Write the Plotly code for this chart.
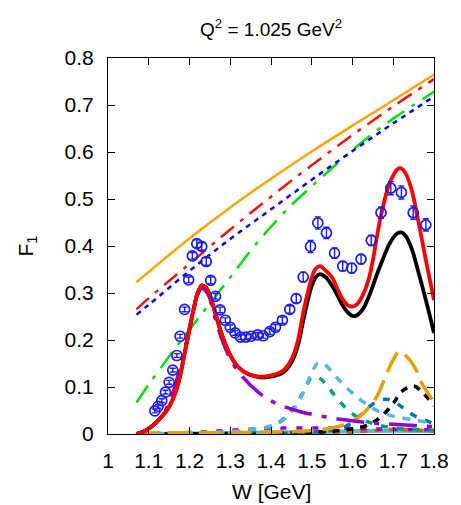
import plotly.graph_objects as go

# ---- measured structure function F1 at Q^2 = 1.025 GeV^2 ----
data_w = [1.115, 1.123, 1.132, 1.141, 1.150, 1.159, 1.169, 1.177, 1.188, 1.198,
          1.207, 1.218, 1.230, 1.241, 1.252, 1.264, 1.275, 1.288, 1.300, 1.312,
          1.325, 1.338, 1.351, 1.367, 1.381, 1.397, 1.411, 1.428, 1.446, 1.462,
          1.479, 1.497, 1.515, 1.536, 1.556, 1.576, 1.598, 1.621, 1.646, 1.670,
          1.694, 1.720, 1.749, 1.780]
data_f1 = [0.049, 0.059, 0.071, 0.089, 0.110, 0.136, 0.167, 0.208, 0.265, 0.328,
           0.379, 0.405, 0.399, 0.367, 0.327, 0.293, 0.264, 0.242, 0.227, 0.215,
           0.206, 0.206, 0.208, 0.211, 0.209, 0.218, 0.227, 0.242, 0.265, 0.288,
           0.334, 0.399, 0.449, 0.428, 0.385, 0.357, 0.353, 0.372, 0.412, 0.471,
           0.523, 0.514, 0.471, 0.445]
data_err = [0.004, 0.004, 0.004, 0.004, 0.004, 0.004, 0.004, 0.004, 0.005, 0.006,
            0.007, 0.008, 0.008, 0.008, 0.007, 0.006, 0.006, 0.005, 0.005, 0.005,
            0.005, 0.005, 0.005, 0.005, 0.005, 0.006, 0.006, 0.007, 0.008, 0.009,
            0.010, 0.013, 0.013, 0.012, 0.011, 0.010, 0.010, 0.010, 0.011, 0.012,
            0.014, 0.014, 0.014, 0.013]

# ---- smooth curves (W grid, value) ----
top_w = [1.07, 1.10, 1.20, 1.30, 1.40, 1.50, 1.60, 1.70, 1.80]
orange_top = [0.323, 0.345, 0.416, 0.482, 0.543, 0.601, 0.656, 0.710, 0.765]
red_dashdot = [0.265, 0.289, 0.362, 0.435, 0.505, 0.572, 0.636, 0.697, 0.755]
blue_dotted = [0.254, 0.275, 0.347, 0.415, 0.478, 0.541, 0.602, 0.661, 0.718]

green_w = [1.07, 1.10, 1.15, 1.20, 1.25, 1.30, 1.35, 1.40, 1.45, 1.50, 1.55,
           1.60, 1.65, 1.70, 1.75, 1.80]
green_dashdot = [0.067, 0.105, 0.165, 0.222, 0.278, 0.333, 0.390, 0.441, 0.487,
                 0.527, 0.566, 0.604, 0.639, 0.671, 0.700, 0.728]

total_w = [1.07, 1.09, 1.11, 1.13, 1.15, 1.17, 1.19, 1.21, 1.22, 1.23, 1.24,
           1.25, 1.265, 1.28, 1.30, 1.32, 1.345, 1.37, 1.39, 1.41, 1.43, 1.45,
           1.465, 1.48, 1.49, 1.50, 1.51, 1.52, 1.535, 1.55, 1.56, 1.575, 1.59,
           1.60, 1.61, 1.625, 1.64, 1.65, 1.66, 1.67, 1.688, 1.70, 1.71, 1.72,
           1.73, 1.745, 1.76, 1.78, 1.80]
total_red = [0.0, 0.006, 0.018, 0.035, 0.058, 0.100, 0.180, 0.265, 0.300, 0.316,
             0.312, 0.295, 0.252, 0.210, 0.168, 0.142, 0.127, 0.122, 0.123, 0.127,
             0.135, 0.158, 0.195, 0.262, 0.300, 0.333, 0.352, 0.357, 0.347, 0.333,
             0.315, 0.288, 0.273, 0.271, 0.275, 0.295, 0.330, 0.370, 0.420, 0.465,
             0.527, 0.550, 0.563, 0.565, 0.555, 0.520, 0.460, 0.370, 0.285]
total_black = [0.0, 0.006, 0.018, 0.035, 0.058, 0.100, 0.180, 0.265, 0.300, 0.316,
               0.312, 0.295, 0.252, 0.210, 0.168, 0.142, 0.127, 0.121, 0.121, 0.124,
               0.131, 0.152, 0.185, 0.245, 0.283, 0.315, 0.334, 0.340, 0.333, 0.315,
               0.300, 0.275, 0.257, 0.251, 0.252, 0.265, 0.292, 0.315, 0.340, 0.362,
               0.400, 0.418, 0.427, 0.429, 0.422, 0.395, 0.350, 0.285, 0.215]

delta_w = [1.07, 1.10, 1.13, 1.16, 1.18, 1.20, 1.215, 1.23, 1.245, 1.26, 1.28,
           1.30, 1.33, 1.37, 1.41, 1.47, 1.55, 1.63, 1.71, 1.80]
delta_purple = [0.0, 0.012, 0.035, 0.090, 0.155, 0.222, 0.280, 0.310, 0.298,
                0.255, 0.200, 0.160, 0.122, 0.088, 0.066, 0.048, 0.034, 0.025,
                0.020, 0.016]

sky_w = [1.07, 1.20, 1.30, 1.35, 1.40, 1.43, 1.46, 1.48, 1.50, 1.515, 1.53,
         1.55, 1.57, 1.60, 1.63, 1.66, 1.70, 1.75, 1.80]
sky_dashed = [0.001, 0.003, 0.005, 0.009, 0.017, 0.030, 0.058, 0.090, 0.130,
              0.151, 0.149, 0.132, 0.112, 0.087, 0.066, 0.050, 0.038, 0.030, 0.023]

teal_w = [1.07, 1.30, 1.38, 1.42, 1.45, 1.48, 1.50, 1.52, 1.54, 1.56, 1.59,
          1.62, 1.66, 1.70, 1.80]
teal_dashed = [0.0, 0.003, 0.010, 0.025, 0.050, 0.090, 0.120, 0.118, 0.100,
               0.078, 0.050, 0.032, 0.020, 0.013, 0.008]

amber_w = [1.07, 1.30, 1.45, 1.52, 1.56, 1.60, 1.63, 1.66, 1.68, 1.70, 1.715,
           1.735, 1.755, 1.77, 1.80]
amber_dashed = [0.002, 0.003, 0.005, 0.009, 0.015, 0.027, 0.047, 0.080, 0.120,
                0.158, 0.176, 0.163, 0.138, 0.108, 0.068]

kd_w = [1.07, 1.40, 1.55, 1.60, 1.64, 1.67, 1.70, 1.72, 1.75, 1.77, 1.80]
black_dashed = [0.0, 0.002, 0.006, 0.011, 0.020, 0.037, 0.065, 0.090, 0.102,
                0.090, 0.060]

navy_w = [1.07, 1.50, 1.58, 1.62, 1.65, 1.68, 1.70, 1.725, 1.75, 1.80]
navy_dashed = [0.0, 0.004, 0.015, 0.040, 0.064, 0.074, 0.070, 0.055, 0.040, 0.022]

small_w = [1.07, 1.20, 1.30, 1.40, 1.50, 1.60, 1.70, 1.80]
violet_small = [0.0, 0.003, 0.008, 0.012, 0.013, 0.012, 0.010, 0.009]
vermilion_small = [0.0, 0.0, 0.001, 0.001, 0.002, 0.004, 0.010, 0.006]
cyan_small = [0.0, 0.001, 0.002, 0.003, 0.004, 0.006, 0.007, 0.006]

x_ticks = [1, 1.1, 1.2, 1.3, 1.4, 1.5, 1.6, 1.7, 1.8]
y_ticks = [0, 0.1, 0.2, 0.3, 0.4, 0.5, 0.6, 0.7, 0.8]

FONT = "Liberation Sans, Arial, sans-serif"

fig = go.Figure()


def curve(x, y, color, width, dash="solid"):
    fig.add_trace(go.Scatter(
        x=x, y=y, mode="lines",
        line=dict(color=color, width=width, dash=dash, shape="spline", smoothing=1.0),
        hoverinfo="skip", showlegend=False))


# small near-zero contributions
curve(small_w, cyan_small, "#4fb8e0", 4, "solid")
curve(small_w, vermilion_small, "#d55e00", 3.5, "7px,7px")
curve(small_w, violet_small, "#9400d3", 3.5, "6px,10px")
# resonance components
curve(navy_w, navy_dashed, "#0072b2", 3.5, "7px,9px")
curve(kd_w, black_dashed, "#000000", 3.5, "7px,7px")
curve(teal_w, teal_dashed, "#009e73", 3.5, "7px,9px")
curve(sky_w, sky_dashed, "#56b4e9", 3.5, "8px,8px")
curve(amber_w, amber_dashed, "#e69f00", 3.5, "22px,9px")
curve(delta_w, delta_purple, "#9400d3", 3.5, "28px,10px,5px,10px")
# upper curves
curve(green_w, green_dashdot, "#00dd00", 2.5, "20px,9px,4px,9px")
curve(top_w, blue_dotted, "#0000ff", 2.5, "5px,5px")
curve(top_w, red_dashdot, "#ee1111", 2.5, "17px,8px,4px,8px")
curve(top_w, orange_top, "#ffa500", 2.5, "solid")
# totals
curve(total_w, total_black, "#000000", 3.8)
curve(total_w, total_red, "#ff0000", 3.8)

# data with error bars
fig.add_trace(go.Scatter(
    x=data_w, y=data_f1, mode="markers",
    marker=dict(symbol="circle-open", size=10, color="#1c1cf0", line=dict(width=1.7)),
    error_y=dict(type="data", array=data_err, visible=True, color="#1c1cf0",
                 thickness=1.4, width=3),
    hoverinfo="skip", showlegend=False))

axis_common = dict(
    showgrid=False, zeroline=False, showline=True, linecolor="black", linewidth=1,
    mirror="ticks", ticks="inside", ticklen=7, tickcolor="black", tickwidth=1,
    tickfont=dict(family=FONT, size=21, color="black"))

fig.update_layout(
    width=461, height=505,
    margin=dict(l=108, r=24, t=58, b=71),
    paper_bgcolor="white", plot_bgcolor="white",
    xaxis=dict(range=[1, 1.8], tickvals=x_ticks, ticktext=[f"{v:g}" for v in x_ticks],
               ticklabelstandoff=8, **axis_common),
    yaxis=dict(range=[0, 0.8], tickvals=y_ticks, ticktext=[f"{v:g}" for v in y_ticks],
               ticklabelstandoff=9, **axis_common),
    annotations=[
        dict(text="Q<sup>2</sup> = 1.025 GeV<sup>2</sup>", xref="paper", yref="paper",
             x=0.5, y=1.08, xanchor="center", yanchor="middle", showarrow=False,
             font=dict(family=FONT, size=19, color="black")),
        dict(text="W [GeV]", xref="paper", yref="paper", x=0.5, y=-0.153,
             xanchor="center", yanchor="middle", showarrow=False,
             font=dict(family=FONT, size=21, color="black")),
        dict(text="F<sub>1</sub>", xref="paper", yref="paper", x=-0.25, y=0.5,
             xanchor="center", yanchor="middle", showarrow=False, textangle=-90,
             font=dict(family=FONT, size=21, color="black")),
    ],
)

fig.write_html("out.html")
